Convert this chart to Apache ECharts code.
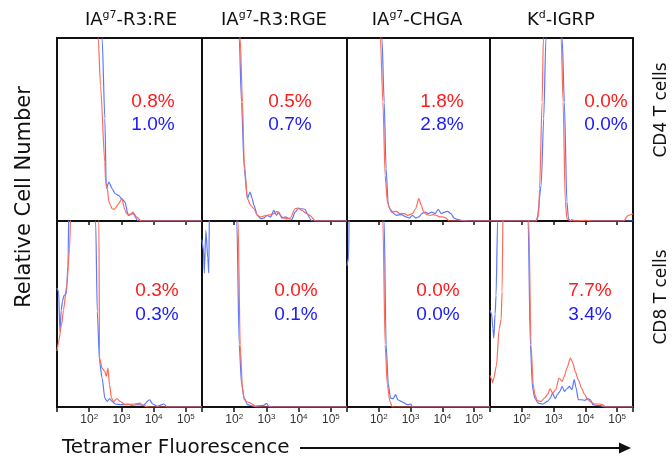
<!DOCTYPE html>
<html>
<head>
<meta charset="utf-8">
<script src="https://cdn.jsdelivr.net/npm/echarts@6/dist/echarts.min.js"></script>
<style>html,body{margin:0;padding:0;background:#fff;}#c{width:672px;height:462px;}</style>
</head>
<body>
<div id="c"></div>
<script>
// ---- data (x = log10 fluorescence, y = relative cell number, % of panel height) ----
const tickLabels = {2: ['10', '2'], 3: ['10', '3'], 4: ['10', '4'], 5: ['10', '5']};
const titles = [
  {main: 'IA', sup: 'g7', rest: '-R3:RE'},
  {main: 'IA', sup: 'g7', rest: '-R3:RGE'},
  {main: 'IA', sup: 'g7', rest: '-CHGA'},
  {main: 'K', sup: 'd', rest: '-IGRP'}
];
const rowLabels = ['CD4 T cells', 'CD8 T cells'];
const redPct = ['0.8%', '0.5%', '1.8%', '0.0%', '0.3%', '0.0%', '0.0%', '7.7%'];
const bluePct = ['1.0%', '0.7%', '2.8%', '0.0%', '0.3%', '0.1%', '0.0%', '3.4%'];

const cd4_RE_red = [[1.0,130],[2.2,130],[2.28,100],[2.35,74],[2.485,32],[2.51,21],[2.56,17.7],[2.61,10.4],[2.66,8.6],[2.71,6.7],[2.76,6.4],[2.81,7],[2.91,9.5],[3.01,12.2],[3.11,6],[3.16,4],[3.26,3.5],[3.36,4.9],[3.465,2.2],[3.616,0],[5.5,0]];
const cd4_RE_blue = [[1.0,130],[2.33,130],[2.40,100],[2.485,56],[2.53,17.7],[2.61,21.3],[2.71,17.7],[2.81,14.9],[2.91,14],[3.01,12.2],[3.11,10.4],[3.21,3.1],[3.36,4],[3.515,0],[5.5,0]];
const cd4_RGE_red = [[1.0,130],[2.1,130],[2.185,100],[2.256,65],[2.31,32.2],[2.41,12.2],[2.51,8.6],[2.61,6.7],[2.72,3.1],[2.82,2.2],[2.92,2.7],[3.02,3.1],[3.13,3.5],[3.23,4],[3.33,5.3],[3.43,3.1],[3.53,1.6],[3.64,1.3],[3.74,1.6],[3.89,6.7],[3.99,7.1],[4.10,5.8],[4.25,4],[4.35,3.1],[4.45,1.3],[4.51,0],[5.5,0]];
const cd4_RGE_blue = [[1.0,130],[2.08,130],[2.155,100],[2.226,65],[2.31,28.6],[2.41,12.2],[2.49,15.8],[2.56,12.2],[2.61,8.6],[2.72,3.1],[2.82,1.3],[2.92,1.6],[3.02,3.1],[3.13,2.2],[3.23,5.8],[3.31,3.1],[3.38,4.9],[3.48,1.6],[3.59,2.2],[3.69,1.3],[3.79,0.9],[3.89,4.9],[3.99,6.7],[4.10,6.7],[4.20,6.4],[4.27,4],[4.35,1.3],[4.40,0],[5.5,0]];
const cd4_CHGA_red = [[1.0,130],[1.98,130],[2.05,100],[2.13,65],[2.20,25],[2.27,10.4],[2.35,6.7],[2.45,4.9],[2.55,5.3],[2.66,4],[2.81,4],[2.91,3.1],[3.06,4],[3.16,6.7],[3.26,12.2],[3.34,8.6],[3.41,4.9],[3.51,3.5],[3.62,3.1],[3.72,3.5],[3.82,3.1],[3.92,2.2],[4.02,2.2],[4.12,1.6],[4.22,0],[5.5,0]];
const cd4_CHGA_blue = [[1.0,130],[2.03,130],[2.10,100],[2.17,65],[2.23,28.6],[2.30,8.6],[2.40,4.9],[2.55,3.1],[2.71,3.5],[2.86,2.2],[2.96,1.6],[3.06,3.1],[3.16,1.6],[3.26,2.2],[3.36,4],[3.46,4.9],[3.56,4],[3.67,4.9],[3.77,4],[3.87,6.4],[3.97,4],[4.07,4.9],[4.17,5.3],[4.27,4],[4.37,1.6],[4.47,0.9],[4.58,0.4],[4.78,0],[5.5,0]];
const cd4_IGRP_red = [[1.0,0],[2.46,0],[2.53,3],[2.56,17.7],[2.64,65],[2.68,100],[2.72,130],[3.2,130],[3.24,100],[3.30,65],[3.37,10.4],[3.42,1.3],[3.53,0],[3.58,0.7],[3.7,0],[4.03,0.4],[4.2,0],[5.2,0],[5.35,3.1],[5.5,4]];
const cd4_IGRP_blue = [[1.0,0],[2.46,0],[2.49,2.2],[2.61,19.5],[2.69,56],[2.76,100],[2.8,130],[3.22,130],[3.27,100],[3.34,65],[3.42,10.4],[3.47,1.3],[3.53,0],[5.5,0]];

const cd8_RE_red = [[1.0,30],[1.05,35],[1.14,44],[1.2,52],[1.3,65],[1.39,85],[1.45,120],[2.25,120],[2.30,100],[2.32,26.3],[2.40,20.9],[2.485,19.1],[2.53,16.5],[2.58,20.9],[2.63,12],[2.69,4.8],[2.76,3],[2.86,4.5],[2.96,3],[3.11,1.25],[3.41,1.6],[3.57,2.1],[3.67,0.9],[3.82,0],[5.5,0]];
const cd8_RE_blue = [[1.0,64],[1.05,62],[1.09,40.6],[1.13,52],[1.17,57],[1.22,60],[1.29,61],[1.34,76],[1.38,120],[2.15,120],[2.20,100],[2.25,51.3],[2.32,24.5],[2.40,15.6],[2.485,4.8],[2.56,3],[2.63,4.5],[2.71,3],[2.81,1.6],[3.01,1.25],[3.21,1.6],[3.31,0.9],[3.52,1.25],[3.67,0.9],[3.87,3.9],[3.97,1.6],[4.12,0.4],[4.32,1.6],[4.42,0],[5.5,0]];
const cd8_RGE_red = [[1.0,120],[2.05,120],[2.12,100],[2.185,33.5],[2.256,10.2],[2.31,3.9],[2.41,2.7],[2.51,2.1],[2.59,1.25],[2.665,0],[5.5,0]];
const cd8_RGE_blue = [[1.0,90],[1.05,84],[1.07,72],[1.12,95],[1.18,80],[1.21,72],[1.24,120],[2.0,120],[2.08,100],[2.155,33.5],[2.23,12],[2.31,4.8],[2.41,1.25],[2.61,0.4],[2.92,0.9],[3.00,2],[3.07,0.4],[3.2,0],[5.5,0]];
const cd8_CHGA_red = [[1.0,120],[2.05,120],[2.13,100],[2.20,33.5],[2.27,12],[2.35,3],[2.43,0],[5.5,0]];
const cd8_CHGA_blue = [[1.0,76],[1.05,80],[1.08,120],[2.1,120],[2.17,100],[2.23,33.5],[2.30,12],[2.37,4.8],[2.45,4.5],[2.53,6.6],[2.60,3.9],[2.70,3],[2.81,2.1],[2.91,1.25],[3.01,1.6],[3.06,0],[5.5,0]];
const cd8_IGRP_red = [[1.0,17],[1.05,15],[1.08,13],[1.12,15.6],[1.2,22],[1.29,42],[1.35,47],[1.38,62],[1.42,120],[2.15,120],[2.22,100],[2.29,33.5],[2.36,12],[2.41,6.6],[2.49,3.4],[2.61,3],[2.71,4.8],[2.81,6.6],[2.89,9.8],[2.97,7.5],[3.07,9.3],[3.17,15.6],[3.27,13.8],[3.34,16.5],[3.42,20.9],[3.53,26.3],[3.61,23.6],[3.68,19.1],[3.78,14.7],[3.88,10.2],[3.98,6.6],[4.08,3.9],[4.19,2.5],[4.29,1.6],[4.44,1.6],[4.54,1.25],[4.65,0],[5.5,0]];
const cd8_IGRP_blue = [[1.0,52],[1.05,50],[1.09,42.4],[1.12,37],[1.16,50],[1.19,60],[1.24,100],[1.26,130],[2.12,130],[2.20,100],[2.27,33.5],[2.34,10.2],[2.41,4.8],[2.51,2.1],[2.66,1.6],[2.81,3],[2.89,4.5],[2.97,7.5],[3.05,4.5],[3.12,6.6],[3.20,8.4],[3.27,11.1],[3.34,8.4],[3.42,9.8],[3.50,11.1],[3.58,9.3],[3.65,14.7],[3.71,10.2],[3.78,3.9],[3.88,3.9],[3.98,3.6],[4.08,4.5],[4.16,3.9],[4.24,1.25],[4.34,0.9],[4.49,0.7],[4.6,0],[5.5,0]];

const redSets = [cd4_RE_red, cd4_RGE_red, cd4_CHGA_red, cd4_IGRP_red, cd8_RE_red, cd8_RGE_red, cd8_CHGA_red, cd8_IGRP_red];
const blueSets = [cd4_RE_blue, cd4_RGE_blue, cd4_CHGA_blue, cd4_IGRP_blue, cd8_RE_blue, cd8_RGE_blue, cd8_CHGA_blue, cd8_IGRP_blue];

// ---- layout ----
const colLeft = [57, 202, 347, 490];
const colWidth = [145, 145, 143, 143];
const rowTop = [38, 221];
const rowHeight = [183, 186];
const pctX = [[153, 290, 442, 606], [157, 296, 438, 590]];
const pctY = [[102, 125], [291, 315]];
const titleX = [131, 274, 417, 561];

const RED_LINE = '#ff6b5a', BLUE_LINE = '#5c78ff';
const RED_TXT = '#ff1a1a', BLUE_TXT = '#1a1aff';

function tickFmt(v) {
  const k = Math.round(v);
  if (Math.abs(v - k) > 1e-6 || !tickLabels[k]) return '';
  return '{b|' + tickLabels[k][0] + '}{s|' + tickLabels[k][1] + '}';
}

const grids = [], xAxes = [], yAxes = [], series = [], graphics = [];
for (let r = 0; r < 2; r++) {
  for (let c = 0; c < 4; c++) {
    const i = r * 4 + c;
    grids.push({left: colLeft[c], top: rowTop[r], width: colWidth[c], height: rowHeight[r],
      show: true, borderColor: '#111', borderWidth: 2, backgroundColor: 'transparent', containLabel: false});
    xAxes.push({type: 'value', gridIndex: i, min: 1, max: 5.5, interval: 1,
      axisLine: {show: false}, splitLine: {show: false},
      axisTick: {show: true, inside: false, length: r === 0 ? 4 : 5, lineStyle: {color: '#111', width: 1.5}},
      axisLabel: {show: r === 1, margin: 6, color: '#333', formatter: tickFmt,
        rich: {b: {fontFamily: 'Liberation Sans', fontSize: 12, lineHeight: 14, color: '#333'},
               s: {fontFamily: 'Liberation Sans', fontSize: 8, lineHeight: 14, verticalAlign: 'top', color: '#333'}}}});
    yAxes.push({type: 'value', gridIndex: i, min: 0, max: 100,
      axisLine: {show: false}, axisTick: {show: false}, axisLabel: {show: false}, splitLine: {show: false}});
    series.push({type: 'line', xAxisIndex: i, yAxisIndex: i, data: blueSets[i], showSymbol: false, symbol: 'none',
      smooth: 0.25, smoothMonotone: 'x', clip: true, lineStyle: {color: BLUE_LINE, width: 1.2}, silent: true, animation: false});
    series.push({type: 'line', xAxisIndex: i, yAxisIndex: i, data: redSets[i], showSymbol: false, symbol: 'none',
      smooth: 0.25, smoothMonotone: 'x', clip: true, lineStyle: {color: RED_LINE, width: 1.2}, silent: true, animation: false});
    graphics.push({type: 'text', x: pctX[r][c], y: pctY[r][0], style: {text: redPct[i], fill: RED_TXT,
      font: '19px "Liberation Sans", Arial, sans-serif', textAlign: 'center', textVerticalAlign: 'middle'}});
    graphics.push({type: 'text', x: pctX[r][c], y: pctY[r][1], style: {text: bluePct[i], fill: BLUE_TXT,
      font: '19px "Liberation Sans", Arial, sans-serif', textAlign: 'center', textVerticalAlign: 'middle'}});
  }
}
titles.forEach((t, c) => {
  graphics.push({type: 'text', x: titleX[c], y: 20, style: {
    text: '{n|' + t.main + '}{s|' + t.sup + '}{n|' + t.rest + '}',
    textAlign: 'center', textVerticalAlign: 'middle',
    rich: {n: {fontFamily: 'DejaVu Sans', fontSize: 18, lineHeight: 22, fill: '#111'},
           s: {fontFamily: 'DejaVu Sans', fontSize: 11, lineHeight: 22, verticalAlign: 'top', fill: '#111', padding: [1,0,0,0]}}}});
});
graphics.push({type: 'text', x: 25, y: 197, rotation: Math.PI / 2, style: {text: 'Relative Cell Number',
  font: '21px "DejaVu Sans"', fill: '#111', textAlign: 'center', textVerticalAlign: 'middle'}});
graphics.push({type: 'text', x: 662, y: 110, rotation: Math.PI / 2, style: {text: rowLabels[0],
  font: '17px "DejaVu Sans"', fill: '#111', textAlign: 'center', textVerticalAlign: 'middle'}});
graphics.push({type: 'text', x: 662, y: 297, rotation: Math.PI / 2, style: {text: rowLabels[1],
  font: '17px "DejaVu Sans"', fill: '#111', textAlign: 'center', textVerticalAlign: 'middle'}});
graphics.push({type: 'text', x: 62, y: 448, style: {text: 'Tetramer Fluorescence',
  font: '20px "DejaVu Sans"', fill: '#111', textAlign: 'left', textVerticalAlign: 'middle'}});
graphics.push({type: 'line', shape: {x1: 300, y1: 448, x2: 622, y2: 448}, style: {stroke: '#111', lineWidth: 2}});
graphics.push({type: 'polygon', shape: {points: [[631, 448], [619, 442.5], [619, 453.5]]}, style: {fill: '#111'}});

const chart = echarts.init(document.getElementById('c'), null, {renderer: 'canvas'});
chart.setOption({animation: false, backgroundColor: '#fff', grid: grids, xAxis: xAxes, yAxis: yAxes, series: series, graphic: graphics});
</script>
</body>
</html>
